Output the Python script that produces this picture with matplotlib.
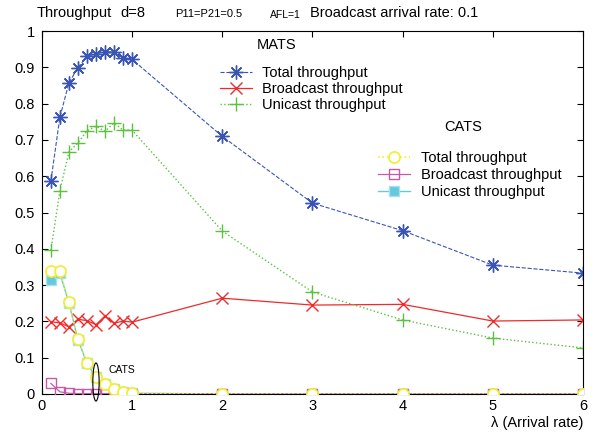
from matplotlib import pyplot as plt
from matplotlib.patches import Ellipse
import numpy as np

plt.rcParams['font.family'] = ['Liberation Sans', 'DejaVu Sans']

# arrival rates
lam = [0.1, 0.2, 0.3, 0.4, 0.5, 0.6, 0.7, 0.8, 0.9, 1.0, 2, 3, 4, 5, 6]

# MATS
mats_total = [0.587, 0.763, 0.857, 0.899, 0.931, 0.937, 0.943, 0.942, 0.927, 0.922,
              0.710, 0.526, 0.450, 0.355, 0.333]
mats_bcast = [0.199, 0.196, 0.185, 0.206, 0.202, 0.191, 0.215, 0.195, 0.201, 0.198,
              0.264, 0.245, 0.247, 0.201, 0.204]
mats_ucast = [0.396, 0.560, 0.667, 0.692, 0.725, 0.738, 0.724, 0.747, 0.727, 0.727,
              0.449, 0.281, 0.204, 0.154, 0.127]

# CATS
cats_total = [0.339, 0.339, 0.253, 0.151, 0.085, 0.048, 0.028, 0.014, 0.006, 0.002,
              0, 0, 0, 0, 0]
cats_bcast = [0.029, 0.006, 0.002, 0.001, 0.001, 0.001, 0.001, 0.001, 0.001, 0.0,
              0, 0, 0, 0, 0]
cats_ucast = [0.315, 0.333, 0.251, 0.150, 0.084, 0.047, 0.027, 0.013, 0.005, 0.002,
              0, 0, 0, 0, 0]

fig = plt.figure(figsize=(5.98, 4.38), dpi=100)
ax = fig.add_axes([0.070, 0.1005, 0.905, 0.8285])

blue = '#3a55b4'
red = '#ee2a2a'
green = '#5cc040'
yellow = '#f2ee2a'
magenta = '#c65aa8'
cyan = '#66c8dc'

l1, = ax.plot(lam, mats_total, '--', color=blue, lw=0.8, marker=(8, 2, 0), ms=10,
              mew=1.0, label='Total throughput')
l2, = ax.plot(lam, mats_bcast, '-', color=red, lw=0.9, marker='x', ms=9, mew=1.0,
              label='Broadcast throughput')
l3, = ax.plot(lam, mats_ucast, ':', color=green, lw=1.0, marker='+', ms=10, mew=1.0,
              label='Unicast throughput')

c3, = ax.plot(lam, cats_ucast, '-', color=cyan, lw=1.0, marker='s', ms=7.5,
              mfc=cyan, mec='#a8e0ec', mew=1.0, label='Unicast throughput', zorder=2)
c2, = ax.plot(lam, cats_bcast, '-', color=magenta, lw=0.9, marker='s', ms=7,
              mfc='none', mec=magenta, mew=1.0, label='Broadcast throughput', zorder=3)
c1, = ax.plot(lam, cats_total, ':', color=yellow, lw=1.2, marker='o', ms=8,
              mfc='white', mec=yellow, mew=1.2, label='Total throughput', zorder=4)

ax.add_patch(Ellipse((0.6, 0.033), 0.07, 0.105, fill=False, ec='black', lw=0.8,
                     zorder=5, clip_on=False))
ax.text(0.74, 0.066, 'CATS', fontsize=7.5, va='center', ha='left')

ax.set_xlim(0, 6)
ax.set_ylim(0, 1)
ax.set_xticks(range(7))
ax.set_yticks(np.arange(0, 1.01, 0.1))
ax.set_yticklabels(['0', '0.1', '0.2', '0.3', '0.4', '0.5', '0.6', '0.7', '0.8',
                    '0.9', '1'])
ax.tick_params(direction='in', top=True, right=True, labelsize=10.5, length=4)
ax.tick_params(axis='y', pad=5)
for s in ax.spines.values():
    s.set_linewidth(0.8)
ax.set_xlabel('λ (Arrival rate)', loc='right', fontsize=10.5, labelpad=2)

# group headings
ax.text(0.434, 0.961, 'MATS', transform=ax.transAxes, fontsize=10.5,
        ha='center', va='center')
ax.text(0.778, 0.736, 'CATS', transform=ax.transAxes, fontsize=10.5,
        ha='center', va='center')

leg1 = ax.legend(handles=[l1, l2, l3], loc='upper left',
                 bbox_to_anchor=(0.307, 0.936), frameon=False, fontsize=10.5,
                 handlelength=2.2, labelspacing=0.15, borderpad=0.3,
                 handletextpad=0.7)
ax.add_artist(leg1)
ax.legend(handles=[c1, c2, c3], loc='upper left',
          bbox_to_anchor=(0.60, 0.702), frameon=False, fontsize=10.5,
          handlelength=2.2, labelspacing=0.2, borderpad=0.3, handletextpad=0.7)

fig.text(37 / 598, 1 - 13 / 438, 'Throughput', fontsize=10.5, va='center')
fig.text(120 / 598, 1 - 13 / 438, 'd=8', fontsize=10.5, va='center')
fig.text(175 / 598, 1 - 14 / 438, 'P11=P21=0.5', fontsize=8, va='center')
fig.text(270 / 598, 1 - 15 / 438, 'AFL=1', fontsize=7.5, va='center')
fig.text(310 / 598, 1 - 13 / 438, 'Broadcast arrival rate: 0.1', fontsize=10.5,
         va='center')

fig.savefig('out.png', dpi=100)
